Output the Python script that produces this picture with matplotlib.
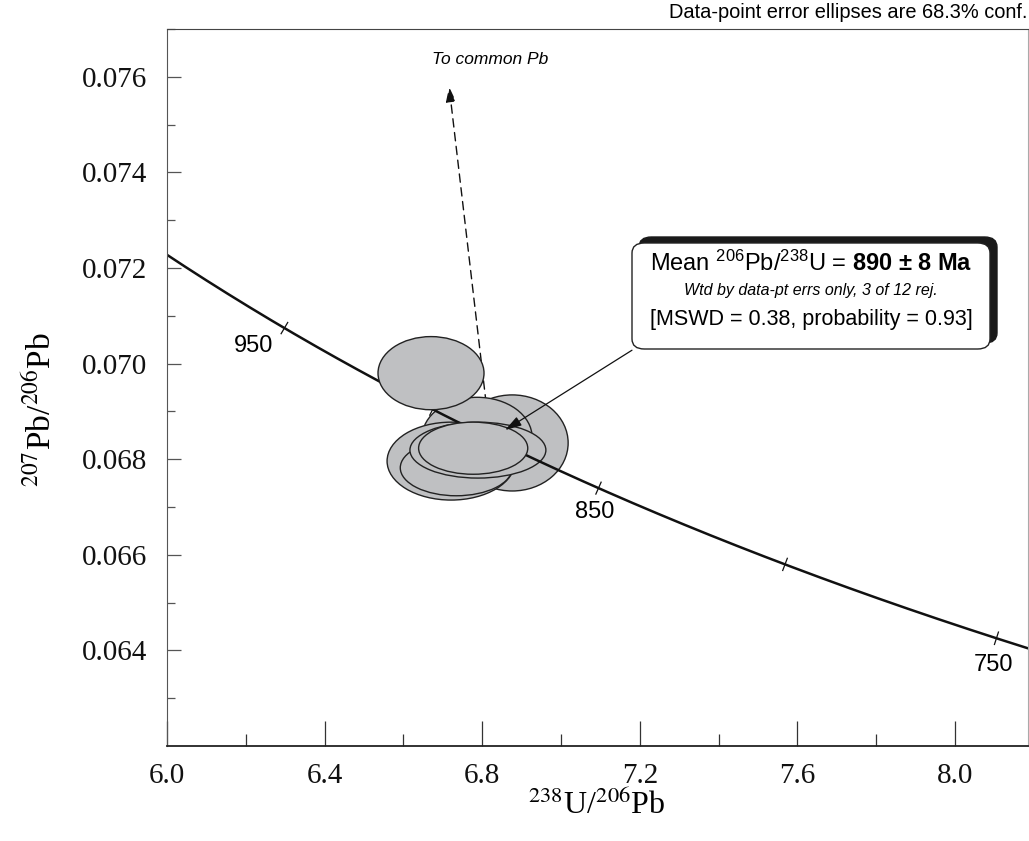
import numpy as np
import matplotlib
matplotlib.use("Agg")
import matplotlib.pyplot as plt
from matplotlib.patches import Ellipse, FancyBboxPatch
from matplotlib import font_manager

# ---- data ----
# error ellipses: centre x, centre y, full width, full height (data units)
ell_x = [6.876, 6.787, 6.721, 6.734, 6.789, 6.777, 6.670]
ell_y = [0.06834, 0.06846, 0.06796, 0.06782, 0.06819, 0.06823, 0.06980]
ell_w = [0.284, 0.279, 0.325, 0.284, 0.345, 0.277, 0.269]
ell_h = [0.00201, 0.00167, 0.00163, 0.00117, 0.00117, 0.00109, 0.00153]

tick_ages = [950, 900, 850, 800, 750]       # Ma, ticks on concordia
label_ages = [950, 850, 750]

# common Pb arrow and mean-age arrow (start, end)
cpb_start = (6.818, 0.0686)
cpb_end = (6.716, 0.07579)
mean_start = (7.180, 0.07028)
mean_end = (6.858, 0.06861)

lam238 = 1.55125e-10
lam235 = 9.8485e-10
u_ratio = 137.88


def concordia(t_ma):
    t = np.asarray(t_ma) * 1e6
    e8 = np.exp(lam238 * t) - 1
    e5 = np.exp(lam235 * t) - 1
    return 1 / e8, e5 / e8 / u_ratio


names = {f.name for f in font_manager.fontManager.ttflist}
sans = 'Liberation Sans Narrow' if 'Liberation Sans Narrow' in names else 'Liberation Sans'
serif = 'Liberation Serif'

plt.rcParams['mathtext.fontset'] = 'custom'
plt.rcParams['mathtext.rm'] = sans
plt.rcParams['mathtext.it'] = sans + ':italic'
plt.rcParams['mathtext.bf'] = sans + ':bold'

W, H = 1029, 841
fig = plt.figure(figsize=(W / 100, H / 100), dpi=100)
ax = fig.add_axes([167 / W, 1 - 746 / H, (1028 - 167) / W, (746 - 29) / H])
ax.set_xlim(6.0, 8.185)
ax.set_ylim(0.062, 0.077)

gray = '#bfc0c2'
zs = [1, 2, 3, 4, 5, 7, 8]
for i in range(len(ell_x)):
    e = Ellipse((ell_x[i], ell_y[i]), ell_w[i], ell_h[i], facecolor=gray,
                edgecolor='#222222', lw=1.0, zorder=zs[i])
    ax.add_patch(e)

# concordia curve
ages = np.linspace(700, 1100, 400)
cx, cy = concordia(ages)
ax.plot(cx, cy, color='#111111', lw=1.8, zorder=6)

# age ticks on the curve
inv = ax.transData.inverted()
for t in tick_ages:
    p = ax.transData.transform(concordia(t))
    q = ax.transData.transform(concordia(t + 1))
    d = q - p
    n = np.array([-d[1], d[0]]) / np.hypot(*d) * 6.5
    seg = inv.transform([p - n, p + n])
    ax.plot(seg[:, 0], seg[:, 1], color='#111111', lw=0.9, zorder=6)

offsets = {950: (-22, -13), 850: (-3, -17), 750: (-2, -19)}
for t in label_ages:
    ax.annotate(str(t), concordia(t), xytext=offsets[t], textcoords='offset points',
                ha='center', va='center', fontsize=17, family=sans, zorder=9)

# arrows
ax.annotate('', xy=cpb_end, xytext=cpb_start, zorder=0.5,
            arrowprops=dict(arrowstyle='-|>,head_length=0.9,head_width=0.3',
                            linestyle=(0, (6, 4)), lw=1.0, color='#111111',
                            shrinkA=0, shrinkB=0))
ax.annotate('', xy=mean_end, xytext=mean_start, zorder=9,
            arrowprops=dict(arrowstyle='-|>,head_length=1.0,head_width=0.3',
                            lw=0.9, color='#111111', shrinkA=0, shrinkB=0))
ax.text(6.82, 0.07636, 'To common Pb', ha='center', va='center', fontsize=12.5,
        style='italic', family=sans)


# result box with shadow
def fx(px):
    return px / W


def fy(py):
    return 1 - py / H


shadow = FancyBboxPatch((fx(639), fy(343)), fx(997) - fx(639), fy(237) - fy(343),
                        boxstyle='round,pad=0,rounding_size=0.012',
                        transform=fig.transFigure, facecolor='#1a1a1a',
                        edgecolor='#1a1a1a', zorder=10)
box = FancyBboxPatch((fx(632), fy(349)), fx(990) - fx(632), fy(243) - fy(349),
                     boxstyle='round,pad=0,rounding_size=0.012',
                     transform=fig.transFigure, facecolor='white',
                     edgecolor='#222222', lw=1.0, zorder=11)
fig.patches.extend([shadow, box])

fig.text(fx(811), fy(263), r'Mean $^{206}$Pb/$^{238}$U = $\mathbf{890\ ±\ 8\ Ma}$',
         ha='center', va='center', fontsize=17, family=sans,
         math_fontfamily='custom', zorder=12)
fig.text(fx(811), fy(290), 'Wtd by data-pt errs only, 3 of 12 rej.', ha='center',
         va='center', fontsize=11.5, style='italic', family=sans, zorder=12)
fig.text(fx(811), fy(320), '[MSWD = 0.38, probability = 0.93]', ha='center',
         va='center', fontsize=15.5, family=sans, zorder=12)

fig.text(fx(1027), fy(12), 'Data-point error ellipses are 68.3% conf.', ha='right',
         va='center', fontsize=14.4, family=sans)

# axes styling
ax.set_xticks([6.0, 6.4, 6.8, 7.2, 7.6, 8.0])
ax.set_xticks(np.arange(6.2, 8.19, 0.4), minor=True)
ax.set_yticks([0.064, 0.066, 0.068, 0.070, 0.072, 0.074, 0.076])
ax.set_yticks(np.arange(0.063, 0.0771, 0.002), minor=True)
ax.set_xticklabels(['6.0', '6.4', '6.8', '7.2', '7.6', '8.0'])
ax.set_yticklabels(['0.064', '0.066', '0.068', '0.070', '0.072', '0.074', '0.076'])
ax.tick_params(axis='x', which='major', direction='in', length=18, width=0.9,
               pad=12, labelsize=21, colors='#333333', labelcolor='#111111')
ax.tick_params(axis='x', which='minor', direction='in', length=8.5, width=0.9,
               colors='#333333')
ax.tick_params(axis='y', which='major', direction='in', length=10, width=0.9,
               pad=14, labelsize=21, colors='#555555', labelcolor='#111111')
ax.tick_params(axis='y', which='minor', direction='in', length=5.5, width=0.9,
               colors='#555555')
for lab in ax.get_xticklabels() + ax.get_yticklabels():
    lab.set_family(serif)
ax.spines['bottom'].set_color('#222222')
ax.spines['bottom'].set_linewidth(1.3)
ax.spines['left'].set_color('#555555')
ax.spines['top'].set_color('#444444')
ax.spines['right'].set_color('#aaaaaa')
for s in ax.spines.values():
    s.set_zorder(20)

fig.text(fx(597), fy(805), r'$^{238}$U/$^{206}$Pb', ha='center', va='center',
         fontsize=23, family=serif, math_fontfamily='stix')
fig.text(fx(40), fy(410), r'$^{207}$Pb/$^{206}$Pb', ha='center', va='center',
         rotation=90, fontsize=24, family=serif, math_fontfamily='stix')

fig.savefig('out.png', dpi=100)
